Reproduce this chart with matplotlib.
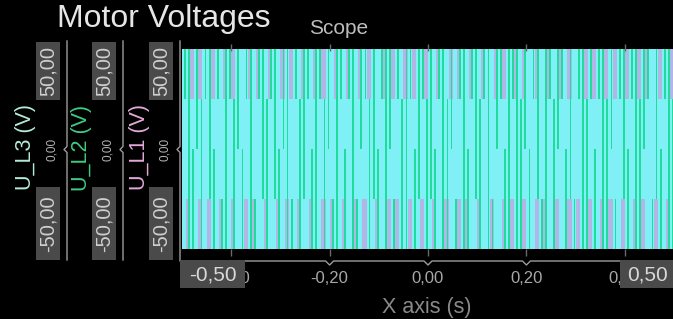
import numpy as np
import matplotlib
matplotlib.use("Agg")
import matplotlib.pyplot as plt
from matplotlib.ticker import FuncFormatter
from matplotlib.patches import Rectangle

plt.rcParams['font.family'] = ['Liberation Sans', 'DejaVu Sans']

# ---------------- data (levels in units of Vdc/3, per time bucket) -------------
T_START, T_END = -0.5, 0.5
LEVEL_V = 100.0 / 3.0          # one PWM level step in volts

# U_L3 envelope per bucket (cyan)
L3_hi = [2, 2, 1, 2, 1, 2, 2, 1, 2, 2, 1, 2, 1, 2, 2, 2, 1, 2, 1, 2,
         2, 1, 2, 2, 1, 2, 1, 2, 2, 1, 2, 2, 1, 2, 1, 2, 2, 1, 2, 2,
         1, 2, 2, 1, 2, 1, 2, 2, 2, 1, 2, 1, 2, 2, 1, 2, 1, 2, 2, 1,
         2, 2, 1, 2, 2, 1, 2, 1, 2, 2, 1, 2, 2, 1, 2, 2, 1, 2, 1, 2,
         2, 1, 2, 1, 2, 2, 1, 2, 2, 1, 2, 2, 1, 2, 1, 2, 2, 2, 1, 2,
         1, 2, 2, 1, 2, 1, 2, 2, 1, 2, 2, 1, 2, 1, 2, 2, 1, 2, 2, 1]
L3_lo = [-2, -1, -2, -2, -1, -2, -1, -2, -2, -1, -2, -2, -1, -2, -2, -1, -2, -1, -2, -2,
         -1, -2, -2, -1, -2, -1, -2, -2, -1, -2, -2, -1, -2, -2, -1, -2, -1, -2, -2, -1,
         -2, -2, -1, -2, -1, -2, -2, -1, -2, -2, -1, -2, -1, -2, -2, -1, -2, -2, -1, -2,
         -2, -1, -2, -2, -1, -2, -2, -1, -2, -1, -2, -2, -1, -2, -2, -1, -2, -2, -1, -2,
         -1, -2, -2, -1, -2, -2, -1, -2, -1, -2, -2, -1, -2, -2, -1, -2, -1, -2, -2, -1,
         -2, -2, -1, -2, -1, -2, -2, -1, -2, -2, -1, -2, -1, -2, -2, -1, -2, -2, -1, -2]

# U_L2 envelope per bucket (green)
L2_hi = [2, 2, 0, 2, 1, 2, 2, 0, 2, -1, 2, 2, 1, 2, 0, 2, 2, -1, 2, 2,
         1, 2, 2, 0, 2, 2, -1, 2, 1, 2, 2, 0, 2, 2, 1, 2, -1, 2, 2, 0,
         2, 2, -1, 2, 2, 1, 2, 0, 2, 2, 2, -1, 2, 1, 2, 2, 0, 2, 2, 1,
         2, 0, 2, 2, 1, 2, -1, 2, 2, 0, 2, 2, 1, 2, 2, -1, 2, 2, 0, 2,
         2, 2, 1, 2, 0, 2, 2, -1, 2, 2, 1, 2, 2, 0, 2, -1, 2, 2, 1, 2,
         0, 2, 2, 1, 2, -1, 2, 2, 0, 2, 2, 1, 2, 2, -1, 2, 0, 2, 2, 1]
L2_lo = [1, -2, -2, 0, -2, 1, -1, -2, 1, -2, -2, 1, -2, 0, -2, 1, -2, -2, 1, -1,
         -2, 1, -1, -2, 0, -2, -2, 1, -2, -1, 1, -2, -2, 1, -2, 0, -2, -2, 1, -2,
         1, -2, -2, 0, 1, -2, -1, -2, 1, -2, 0, -2, 1, -2, -2, 1, -2, -1, 1, -2,
         -1, -2, 1, -2, -2, 0, -2, 1, -2, -2, 1, -1, -2, 1, -2, -2, 0, 1, -2, -2,
         1, -2, -2, 0, -2, 1, -1, -2, -2, 1, -2, 0, 1, -2, -1, -2, 1, -2, -2, 1,
         -2, 1, -2, -2, 0, -2, 1, -1, -2, 1, -2, -2, 0, 1, -2, -1, -2, 1, -2, -2]

# U_L1 envelope per bucket (lavender)
L1_hi = [2, 2, 2, 2, 2, 2, 2, 2, 2, 2, 2, 2, 2, 2, 2, 2, 2, 2, 2, 2,
         2, 2, 2, 2, 2, 2, 2, 2, 2, 2, 2, 2, 2, 2, 2, 2, 2, 2, 2, 2,
         2, 2, 2, 2, 2, 2, 2, 2, 2, 2, 2, 2, 2, 2, 2, 2, 2, 2, 2, 2,
         2, 2, 2, 2, 2, 2, 2, 2, 2, 2, 2, 2, 2, 2, 2, 2, 2, 2, 2, 2,
         2, 2, 2, 2, 2, 2, 2, 2, 2, 2, 2, 2, 2, 2, 2, 2, 2, 2, 2, 2,
         2, 2, 2, 2, 2, 2, 2, 2, 2, 2, 2, 2, 2, 2, 2, 2, 2, 2, 2, 2]
L1_lo = [-2, -2, -2, -2, -2, -2, -2, -2, -2, -2, -2, -2, -2, -2, -2, -2, -2, -2, -2, -2,
         -2, -2, -2, -2, -2, -2, -2, -2, -2, -2, -2, -2, -2, -2, -2, -2, -2, -2, -2, -2,
         -2, -2, -2, -2, -2, -2, -2, -2, -2, -2, -2, -2, -2, -2, -2, -2, -2, -2, -2, -2,
         -2, -2, -2, -2, -2, -2, -2, -2, -2, -2, -2, -2, -2, -2, -2, -2, -2, -2, -2, -2,
         -2, -2, -2, -2, -2, -2, -2, -2, -2, -2, -2, -2, -2, -2, -2, -2, -2, -2, -2, -2,
         -2, -2, -2, -2, -2, -2, -2, -2, -2, -2, -2, -2, -2, -2, -2, -2, -2, -2, -2, -2]

X_TICKS = [-0.4, -0.2, 0.0, 0.2, 0.4]
X_END_LABELS = [-0.5, 0.5]
Y_TICKS = [-50.0, 0.0, 50.0]
SERIES = ["U_L3 (V)", "U_L2 (V)", "U_L1 (V)"]

# ---------------- figure ----------------
W, H = 673, 319
fig = plt.figure(figsize=(W / 100, H / 100), dpi=100, facecolor='black')

CYAN = '#7ef0f6'
GREEN = '#1fdc9c'
LAV = '#b2b6e6'
TITLE_COLORS = ['#b4ecd8', '#3ccc80', '#e4aada']

def fmt(v):
    return f"{v:.2f}".replace('.', ',')

ax = fig.add_axes([182 / W, 1 - 256 / H, (674 - 182) / W, 212 / H])
ax.set_facecolor('black')
ax.set_xlim(T_START, T_END)
ax.set_ylim(-71, 70.3)
for s in ax.spines.values():
    s.set_visible(False)

K = len(L3_hi)
edges = np.linspace(T_START, T_END, K + 1)
centers = (edges[:-1] + edges[1:]) / 2
dt = edges[1] - edges[0]

def draw(hi, lo, color, width_frac=1.0, offset=0.0):
    hi = np.asarray(hi, float) * LEVEL_V
    lo = np.asarray(lo, float) * LEVEL_V
    ax.bar(centers + offset * dt, hi - lo, bottom=lo, width=width_frac * dt,
           color=color, linewidth=0, antialiased=False)

draw(L1_hi, L1_lo, LAV)
draw(L3_hi, L3_lo, CYAN)
draw(L2_hi, L2_lo, GREEN, width_frac=0.45, offset=0.25)

ax.set_xticks(X_TICKS)
ax.xaxis.set_major_formatter(FuncFormatter(lambda v, p: fmt(v)))
ax.tick_params(axis='x', direction='in', length=5, width=1, color='#6a6a6a',
               top=True, labelsize=12, labelcolor='#a8a8a8', pad=11)
ax.set_yticks([])

# overlay in pixel coordinates for axis decorations
ov = fig.add_axes([0, 0, 1, 1])
ov.set_xlim(0, W)
ov.set_ylim(H, 0)
ov.axis('off')
ov.patch.set_alpha(0)

def px(x, y):
    X, Y = ax.transData.transform((x, y))
    return X, H - Y

AX_LINE = '#9c9c9c'
BOX = '#4a4a4a'

# x axis line with notches
x0, _ = px(T_START, 0)
x1, _ = px(T_END, 0)
yl = 261
xs, ys = [x0 - 2], [yl]
for tv in X_TICKS[1:-1]:
    tx, _ = px(tv, 0)
    xs += [tx - 4, tx, tx + 4]
    ys += [yl, yl + 4, yl]
xs.append(x1)
ys.append(yl)
ov.plot(xs, ys, color=AX_LINE, lw=1)

# x end boxes (they cover the neighbouring tick labels, as in the scope)
bx, _ = px(X_END_LABELS[0], 0)
ov.add_patch(Rectangle((bx - 2, 260), 65, 28, fc=BOX, ec='none', zorder=4))
ov.text(bx - 2 + 32.5, 275, fmt(X_END_LABELS[0]), ha='center', va='center',
        fontsize=15, color='#d8d8d8', zorder=5)
bx, _ = px(X_END_LABELS[1], 0)
ov.add_patch(Rectangle((bx - 54, 260), 60, 28, fc=BOX, ec='none', zorder=4))
ov.text(bx - 54 + 27, 275, fmt(X_END_LABELS[1]), ha='center', va='center',
        fontsize=15, color='#d8d8d8', zorder=5)

# three y axes
line_x = [67, 123, 180]
for i, name in enumerate(SERIES):
    lx = line_x[i]
    _, y0 = px(0, 0)
    ov.plot([lx, lx, lx - 3, lx, lx], [41, y0 - 3, y0, y0 + 3, 260],
            color=AX_LINE, lw=1)
    bcx = lx - 19
    for v in Y_TICKS:
        _, ty = px(0, v)
        lab = fmt(v)
        if v == 0:
            ov.text(lx - 15, ty, lab, rotation=90, ha='center', va='center',
                    fontsize=8.5, color='#b4b4b4')
        else:
            ln = 58 if v > 0 else 73
            cy = ty - 3 if v > 0 else ty - 1
            ov.add_patch(Rectangle((bcx - 12, cy - ln / 2), 24, ln,
                                   fc=BOX, ec='none'))
            ov.text(bcx, cy, lab, rotation=90, ha='center', va='center',
                    fontsize=14.5, color='#cfcfcf')
    ov.text(lx - 41, y0 - 2, name, rotation=90, ha='center', va='center',
            fontsize=15.5, color=TITLE_COLORS[i])

# titles
ov.text(57, 27, "Motor Voltages", ha='left', va='baseline', fontsize=23,
        color='#e6e6e6')
ov.text(339, 34, "Scope", ha='center', va='baseline', fontsize=15,
        color='#bdbdbd')
ov.text(427, 313, "X axis (s)", ha='center', va='baseline', fontsize=15.5,
        color='#8a8a8a')

fig.savefig('out.png', dpi=100, facecolor='black')
